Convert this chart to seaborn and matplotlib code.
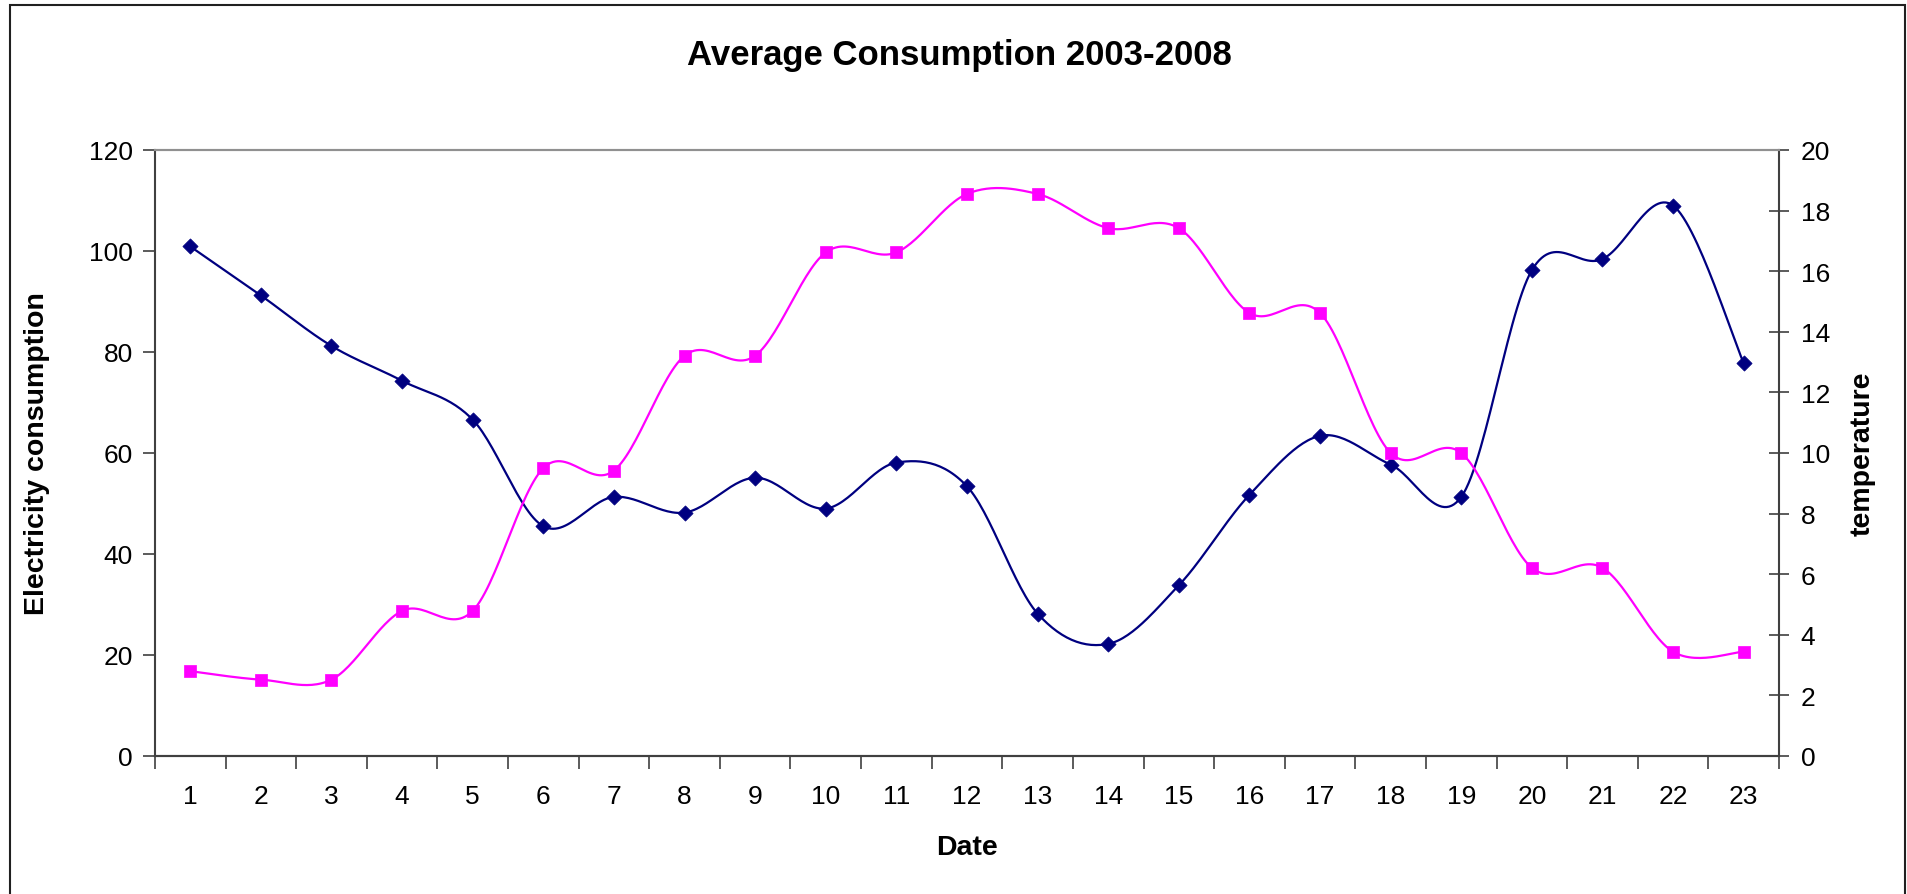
import numpy as np
import matplotlib
matplotlib.use("Agg")
import matplotlib.pyplot as plt
import matplotlib.patches as patches
import seaborn as sns

# data
dates = list(range(1, 24))
electricity = [100.9, 91.2, 81.2, 74.3, 66.6, 45.5, 51.3, 48.2, 55.1, 49.0, 58.1, 53.4,
               28.2, 22.2, 33.8, 51.7, 63.4, 57.7, 51.3, 96.2, 98.4, 109.0, 77.8]
temperature = [2.80, 2.52, 2.52, 4.79, 4.79, 9.50, 9.42, 13.21, 13.21, 16.62, 16.62, 18.55,
               18.55, 17.42, 17.42, 14.62, 14.62, 10.0, 10.0, 6.21, 6.21, 3.44, 3.44]


def smooth(x, y, n=30):
    # Excel-style smoothed line (Catmull-Rom bezier between points)
    x = np.asarray(x, float)
    y = np.asarray(y, float)
    px = np.concatenate([[x[0]], x, [x[-1]]])
    py = np.concatenate([[y[0]], y, [y[-1]]])
    xs, ys = [], []
    t = np.linspace(0, 1, n)
    for i in range(1, len(px) - 2):
        p0x, p1x, p2x, p3x = px[i - 1], px[i], px[i + 1], px[i + 2]
        p0y, p1y, p2y, p3y = py[i - 1], py[i], py[i + 1], py[i + 2]
        c1x, c1y = p1x + (p2x - p0x) / 6, p1y + (p2y - p0y) / 6
        c2x, c2y = p2x - (p3x - p1x) / 6, p2y - (p3y - p1y) / 6
        bx = (1 - t) ** 3 * p1x + 3 * (1 - t) ** 2 * t * c1x + 3 * (1 - t) * t ** 2 * c2x + t ** 3 * p2x
        by = (1 - t) ** 3 * p1y + 3 * (1 - t) ** 2 * t * c1y + 3 * (1 - t) * t ** 2 * c2y + t ** 3 * p2y
        xs.extend(bx)
        ys.extend(by)
    return np.array(xs), np.array(ys)


sns.set_style("white")
plt.rcParams['font.family'] = ['Liberation Sans', 'DejaVu Sans']
plt.rcParams['text.color'] = 'black'
plt.rcParams['xtick.labelcolor'] = 'black'
plt.rcParams['ytick.labelcolor'] = 'black'

fig = plt.figure(figsize=(19.08, 8.95), dpi=100)
ax = fig.add_axes([0.0812, 0.1542, 0.9324 - 0.0812, 0.8313 - 0.1542])
ax2 = ax.twinx()

navy = '#000080'
pink = '#FF00FF'

ex, ey = smooth(dates, electricity)
tx, ty = smooth(dates, temperature)

sns.lineplot(x=ex, y=ey, ax=ax, color=navy, linewidth=1.6, sort=False)
sns.scatterplot(x=dates, y=electricity, ax=ax, marker='D', s=60, color=navy,
                edgecolor=navy, linewidth=0.5, zorder=5)
sns.lineplot(x=tx, y=ty, ax=ax2, color=pink, linewidth=1.6, sort=False)
sns.scatterplot(x=dates, y=temperature, ax=ax2, marker='s', s=85, color=pink,
                edgecolor=pink, linewidth=0.5, zorder=5)

ax.set_xlim(0.5, 23.5)
ax.set_ylim(0, 120)
ax2.set_ylim(0, 20)
ax.set_yticks(range(0, 121, 20))
ax2.set_yticks(range(0, 21, 2))
ax.set_xticks(dates)
ax.set_xticklabels([str(d) for d in dates])
ax.set_xticks(np.arange(0.5, 24, 1), minor=True)
ax.set_xlabel('')
ax.set_ylabel('')
ax2.set_ylabel('')

ax.tick_params(axis='x', which='major', length=0, pad=20, labelsize=19)
ax.tick_params(axis='x', which='minor', length=9, width=1.2, direction='out',
               color='#404040', bottom=True)
ax.tick_params(axis='y', length=9, width=1.2, direction='out', pad=7,
               labelsize=19, color='#404040', left=True)
ax2.tick_params(axis='y', length=15, width=1.2, direction='inout', pad=8,
                labelsize=19, color='#404040', right=True)

for a in (ax, ax2):
    for s in a.spines.values():
        s.set_color('#404040')
        s.set_linewidth(1.5)
ax.spines['top'].set_color('#909090')
ax2.spines['top'].set_color('#909090')
ax2.spines['left'].set_visible(False)
ax.spines['right'].set_visible(False)

fig.text(0.503, 0.9385, 'Average Consumption 2003-2008', ha='center', va='center',
         fontsize=25, fontweight='bold')
fig.text(0.0194, 0.4927, 'Electricity consumption', rotation=90, ha='center',
         va='center', fontsize=20.5, fontweight='bold')
fig.text(0.976, 0.4927, 'temperature', rotation=90, ha='center', va='center',
         fontsize=20.5, fontweight='bold')
fig.text(0.507, 0.0525, 'Date', ha='center', va='center', fontsize=20.5, fontweight='bold')

fig.patches.append(patches.Rectangle((0.0052, -0.02), 0.9932, 1.0133, fill=False,
                                     edgecolor='#202020', linewidth=1.5,
                                     transform=fig.transFigure, figure=fig))

fig.savefig('out.png', dpi=100)
